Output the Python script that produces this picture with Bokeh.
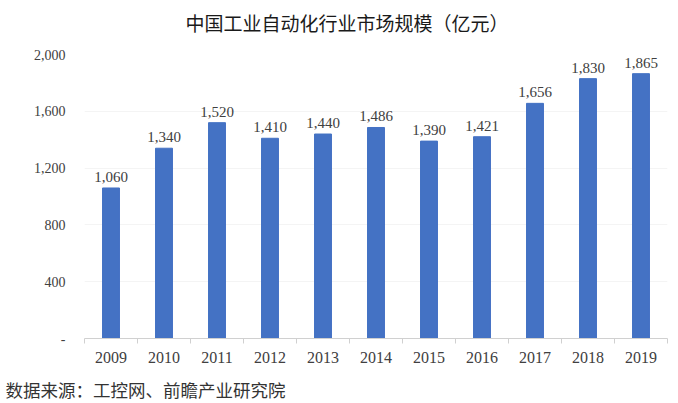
from bokeh.plotting import figure
from bokeh.models import Range1d, FixedTicker, NumeralTickFormatter, Title, LabelSet, ColumnDataSource
from bokeh.embed import file_html
from bokeh.resources import INLINE

years = ["2009", "2010", "2011", "2012", "2013", "2014", "2015", "2016", "2017", "2018", "2019"]
values = [1060, 1340, 1520, 1410, 1440, 1486, 1390, 1421, 1656, 1830, 1865]
y_ticks = [0, 400, 800, 1200, 1600, 2000]
title_text = "中国工业自动化行业市场规模（亿元）"
source_text = "数据来源：工控网、前瞻产业研究院"

idx = list(range(len(years)))
src = ColumnDataSource(dict(x=idx, top=values, label=[f"{v:,}" for v in values]))

p = figure(width=670, height=401, output_backend="svg", toolbar_location=None,
           x_range=Range1d(-0.5, len(years) - 0.5), y_range=Range1d(0, 2000),
           min_border_left=84, min_border_right=3, min_border_top=54, min_border_bottom=60)
p.outline_line_color = None
p.background_fill_color = "white"
p.border_fill_color = "white"

p.vbar(x="x", top="top", width=0.32, source=src, color="#4472C4")

labels = LabelSet(x="x", y="top", text="label", source=src, text_align="center",
                  text_baseline="bottom", y_offset=6, text_font="Liberation Serif",
                  text_font_size="15px", text_color="#404040")
p.add_layout(labels)

# x axis
p.xaxis.ticker = FixedTicker(ticks=idx, minor_ticks=[i - 0.5 for i in range(len(years) + 1)])
p.xaxis.major_label_overrides = {i: y for i, y in enumerate(years)}
p.xaxis.major_tick_line_color = None
p.xaxis.major_tick_out = 0
p.xaxis.major_tick_in = 0
p.xaxis.minor_tick_line_color = "#d0d0d0"
p.xaxis.minor_tick_out = 5
p.xaxis.minor_tick_in = 0
p.xaxis.axis_line_color = "#d0d0d0"
p.xaxis.major_label_text_font = "Liberation Serif"
p.xaxis.major_label_text_font_size = "16px"
p.xaxis.major_label_text_color = "#404040"
p.xaxis.major_label_standoff = 8
p.xgrid.grid_line_color = None

# y axis
p.yaxis.ticker = FixedTicker(ticks=y_ticks)
p.yaxis.formatter = NumeralTickFormatter(format="0,0")
p.yaxis.major_label_overrides = {0: "-"}
p.yaxis.axis_line_color = None
p.yaxis.major_tick_line_color = None
p.yaxis.major_tick_out = 0
p.yaxis.major_tick_in = 0
p.yaxis.minor_tick_line_color = None
p.yaxis.major_label_text_font = "Liberation Serif"
p.yaxis.major_label_text_font_size = "14px"
p.yaxis.major_label_text_color = "#404040"
p.yaxis.major_label_standoff = 19
p.ygrid.grid_line_color = "#f4f4f4"

# spacer + title above the frame
p.add_layout(Title(text=" ", text_font_size="1px", standoff=16), "above")
p.add_layout(Title(text=title_text, align="left", text_font="Noto Sans CJK SC",
                   text_font_size="19px", text_font_style="normal", text_color="#1a1a1a",
                   standoff=0, offset=101), "above")
# spacer + source below the axis
p.add_layout(Title(text=" ", text_font_size="1px", standoff=6), "below")
p.add_layout(Title(text=source_text, align="left", text_font="Noto Sans CJK SC",
                   text_font_size="17.5px", text_font_style="normal", text_color="#333333",
                   offset=-79, standoff=0), "below")

open("out.html", "w").write(file_html(p, INLINE))
